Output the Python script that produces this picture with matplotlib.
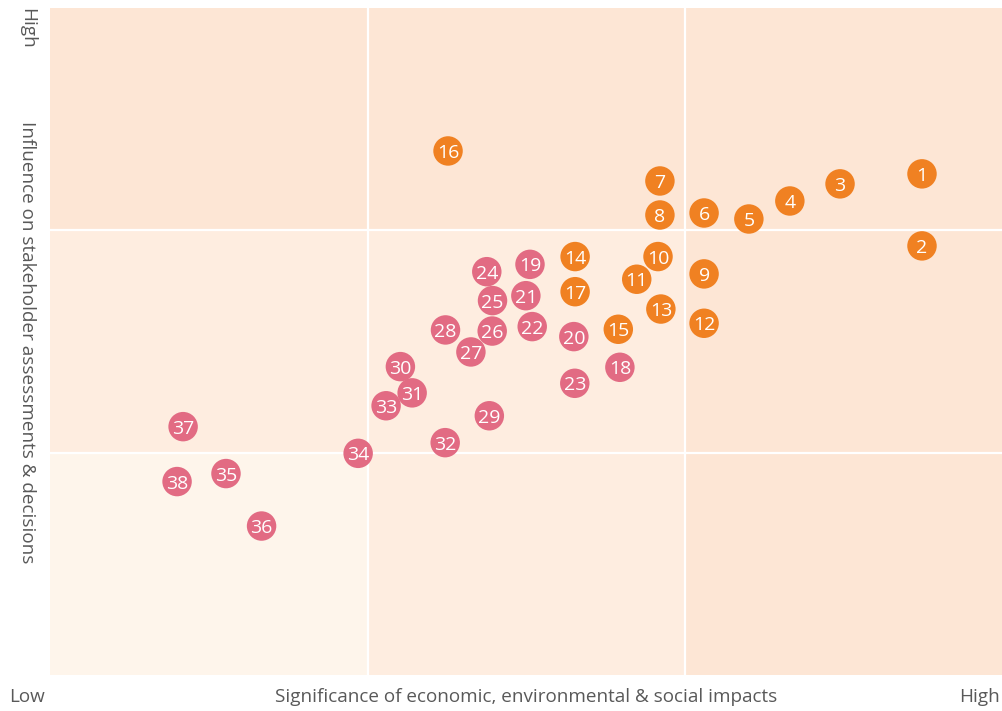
import matplotlib
matplotlib.use("Agg")
import matplotlib.pyplot as plt
from matplotlib.patches import Rectangle

plt.rcParams['font.family'] = ['Open Sans', 'DejaVu Sans']

labels = [str(i) for i in range(1, 39)]
x_vals = [2.745, 2.745, 2.487, 2.329, 2.200, 2.059, 1.920, 1.920, 2.059, 1.914,
          1.847, 2.059, 1.923, 1.653, 1.789, 1.253, 1.653, 1.794, 1.511, 1.649,
          1.498, 1.518, 1.652, 1.375, 1.393, 1.392, 1.325, 1.245, 1.383, 1.103,
          1.140, 1.244, 1.058, 0.970, 0.554, 0.666, 0.419, 0.400]
y_vals = [2.254, 1.930, 2.209, 2.132, 2.051, 2.078, 2.222, 2.069, 1.804, 1.882,
          1.780, 1.582, 1.646, 1.882, 1.555, 2.357, 1.724, 1.384, 1.847, 1.522,
          1.706, 1.567, 1.312, 1.814, 1.684, 1.547, 1.453, 1.552, 1.166, 1.387,
          1.269, 1.045, 1.211, 0.997, 0.906, 0.670, 1.117, 0.870]
groups = ['high'] * 17 + ['other'] * 21

x_label = "Significance of economic, environmental & social impacts"
y_label = "Influence on stakeholder assessments & decisions"

group_colors = {'high': '#F08122', 'other': '#E26B83'}
dark, medium, light = '#FDE6D5', '#FEEDE0', '#FEF5EB'
cell_colors = [[light, medium, dark],   # bottom row
               [medium, medium, dark],  # middle row
               [dark, dark, dark]]      # top row

fig = plt.figure(figsize=(10.03, 7.11), dpi=100)
ax = fig.add_axes([50/1003, 36/711, 953/1003, 667/711])
ax.set_xlim(0, 3)
ax.set_ylim(0, 3)
for r in range(3):
    for c in range(3):
        ax.add_patch(Rectangle((c, r), 1, 1, facecolor=cell_colors[r][c],
                               edgecolor='none', zorder=0))
for v in (1, 2):
    ax.axvline(v, color='white', lw=1.6, zorder=1)
    ax.axhline(v, color='white', lw=1.6, zorder=1)

for xv, yv, lab, g in zip(x_vals, y_vals, labels, groups):
    ax.scatter([xv], [yv], s=450, color=group_colors[g], edgecolors='none', zorder=3)
    ax.text(xv, yv, lab, color='white', fontsize=14, ha='center',
            va='center_baseline', zorder=4)

ax.set_xticks([])
ax.set_yticks([])
for s in ax.spines.values():
    s.set_visible(False)

tc = '#595959'
fs = 13.6
fig.text(27/1003, 1 - 697/711, "Low", ha='center', va='center', color=tc, fontsize=fs)
fig.text(980/1003, 1 - 697/711, "High", ha='center', va='center', color=tc, fontsize=fs)
fig.text(526/1003, 1 - 697/711, x_label, ha='center', va='center', color=tc, fontsize=fs)
fig.text(27/1003, 1 - 8/711, "High", ha='center', va='top', rotation=270, color=tc, fontsize=fs)
fig.text(27/1003, 1 - 342/711, y_label, ha='center', va='center', rotation=270, color=tc, fontsize=fs)

fig.savefig('out.png', dpi=100)
